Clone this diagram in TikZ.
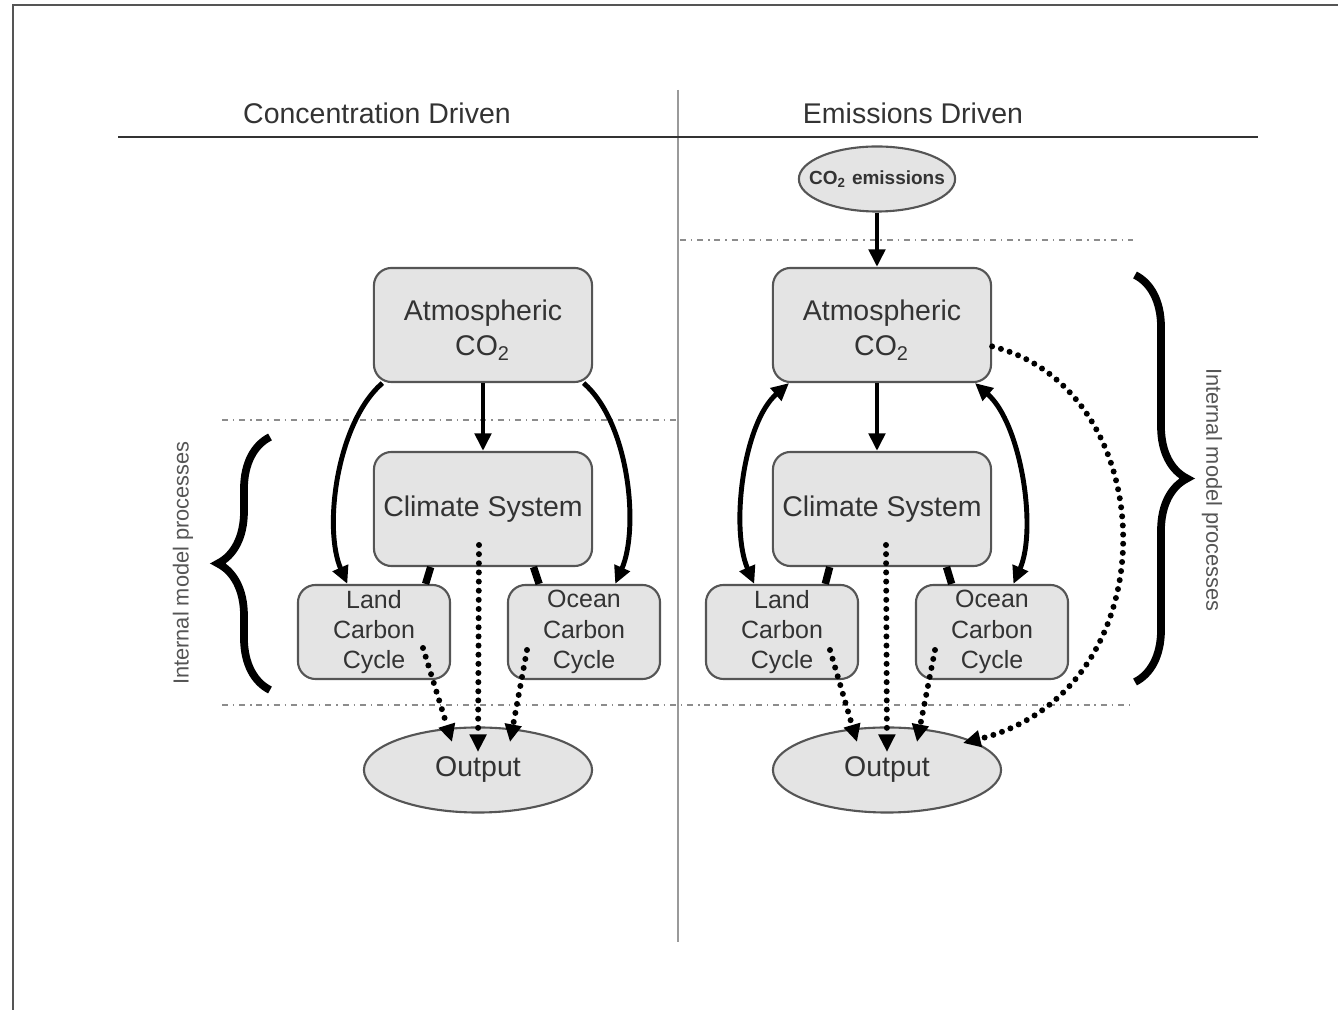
\documentclass[tikz,border=0pt]{standalone}
\usepackage{fontspec}
\setmainfont{Liberation Sans}
\usetikzlibrary{arrows.meta,shapes.geometric,decorations.pathreplacing}
\definecolor{boxfill}{HTML}{E4E4E4}
\definecolor{boxline}{HTML}{555555}
\definecolor{inkgrey}{HTML}{333333}
\definecolor{rulegrey}{HTML}{9A9A9A}
\definecolor{sepgrey}{HTML}{8C8C8C}
\tikzset{
  bigbox/.style={draw=boxline, fill=boxfill, rounded corners=5pt, line width=0.6pt, align=center,
    minimum width=2.18cm, minimum height=1.14cm, inner sep=0pt, text=inkgrey,
    font=\fontsize{8.1pt}{10pt}\selectfont},
  cycbox/.style={draw=boxline, fill=boxfill, rounded corners=5pt, line width=0.6pt, align=center,
    minimum width=1.52cm, minimum height=0.94cm, inner sep=0pt, text=inkgrey,
    font=\fontsize{7.1pt}{8.65pt}\selectfont},
  outell/.style={ellipse, draw=boxline, fill=boxfill, line width=0.6pt, inner sep=0pt,
    minimum width=2.28cm, minimum height=0.85cm, text=inkgrey, font=\fontsize{8.1pt}{10pt}\selectfont},
  emisell/.style={ellipse, draw=boxline, fill=boxfill, line width=0.6pt, inner ysep=0pt, inner xsep=-3.6pt,
    minimum width=1.54cm, minimum height=0.65cm, text=inkgrey, font=\bfseries\fontsize{5.4pt}{6pt}\selectfont},
  flow/.style={-{Triangle[length=5pt,width=4.6pt]}, line width=1.4pt},
  twoway/.style={{Triangle[length=5pt,width=4.6pt]}-{Triangle[length=5pt,width=4.6pt]}, line width=1.4pt},
  link/.style={line width=2.1pt},
  dotflow/.style={-{Triangle[length=5pt,width=4.6pt]}, line width=1.7pt, line cap=round,
    dash pattern=on 0pt off 2.6pt},
  sepline/.style={draw=sepgrey, line width=0.45pt, dash pattern=on 1.7pt off 1.4pt on 0.4pt off 1.4pt},
  bracestyle/.style={decorate, decoration={brace, amplitude=0.52cm}, line width=2.2pt},
  sidelabel/.style={text=boxline, font=\fontsize{6.2pt}{7pt}\selectfont},
  headlabel/.style={text=inkgrey, font=\fontsize{8.1pt}{9.7pt}\selectfont},
}

\begin{document}
\begin{tikzpicture}[x=0.01cm, y=-0.01cm]
  \useasboundingbox (0,0) rectangle (1338,1010);
  \draw[boxline, line width=0.5pt] (13,1010) -- (13,5) -- (1338,5);

  % headings and dividers
  \draw[rulegrey, line width=0.7pt] (678,90) -- (678,942);
  \draw[inkgrey, line width=0.45pt] (118,137) -- (1258,137);
  \node[headlabel] (headL) at (377,113) {Concentration Driven};
  \node[headlabel] (headR) at (913,113) {Emissions Driven};
  \draw[sepline] (222,420) -- (678,420);
  \draw[sepline] (680,240) -- (1133,240);
  \draw[sepline] (222,705) -- (1133,705);

  % concentration driven
  \node[bigbox] (atmL) at (483,325) {\rule{0pt}{8.8pt}Atmospheric\\CO\textsubscript{2}};
  \node[bigbox] (climL) at (483,509) {Climate System};
  \node[cycbox] (landL) at (374,632) {Land\\Carbon\\Cycle};
  \node[cycbox] (oceanL) at (584,632) {Ocean\\Carbon\\Cycle};
  \node[outell] (outL) at (478,770) {Output};

  \draw[flow] (atmL.south) -- (climL.north);
  \draw[flow] (atmL.210) .. controls +(-46,40) and +(-24,-55) .. (landL.119);
  \draw[flow] (atmL.330) .. controls +(46,40) and +(24,-55) .. (oceanL.57);
  \draw[link] (climL.228) -- (landL.43);
  \draw[link] (climL.311) -- (oceanL.133);
  \draw[dotflow] ([shift={(-4,36)}]climL.center) -- ([shift={(0,-18)}]outL.center);
  \draw[dotflow] ([shift={(49,16)}]landL.center) -- ([shift={(-26,-28)}]outL.center);
  \draw[dotflow] ([shift={(-57,18)}]oceanL.center) -- ([shift={(32,-28)}]outL.center);

  \draw[bracestyle] (270,690) -- (270,437);
  \node[sidelabel, rotate=90] (procL) at (183,563) {Internal model processes};

  % emissions driven
  \node[emisell] (emisR) at (877,179) {CO\textsubscript{2} emissions};
  \node[bigbox] (atmR) at (882,325) {\rule{0pt}{8.8pt}Atmospheric\\CO\textsubscript{2}};
  \node[bigbox] (climR) at (882,509) {Climate System};
  \node[cycbox] (landR) at (782,632) {Land\\Carbon\\Cycle};
  \node[cycbox] (oceanR) at (992,632) {Ocean\\Carbon\\Cycle};
  \node[outell] (outR) at (887,770) {Output};

  \draw[flow] (emisR.south) -- (emisR.south |- atmR.north);
  \draw[flow] (atmR.south -| emisR) -- (climR.north -| emisR);
  \draw[twoway] (atmR.212) .. controls +(-46,40) and +(-24,-55) .. (landR.120);
  \draw[twoway] (atmR.328) .. controls +(46,40) and +(24,-55) .. (oceanR.66);
  \draw[link] (climR.228) -- (landR.48);
  \draw[link] (climR.318) -- (oceanR.130);
  \draw[dotflow] ([shift={(4,36)}]climR.center) -- ([shift={(0,-18)}]outR.center);
  \draw[dotflow] ([shift={(48,18)}]landR.center) -- ([shift={(-30,-28)}]outR.center);
  \draw[dotflow] ([shift={(-57,18)}]oceanR.center) -- ([shift={(30,-28)}]outR.center);
  \draw[dotflow] (atmR.349) .. controls +(173,43) and +(210,-52) .. ([shift={(76,-27)}]outR.center);

  \draw[bracestyle] (1135,275) -- (1135,682);
  \node[sidelabel, rotate=-90] (procR) at (1212,490) {Internal model processes};
\end{tikzpicture}
\end{document}
